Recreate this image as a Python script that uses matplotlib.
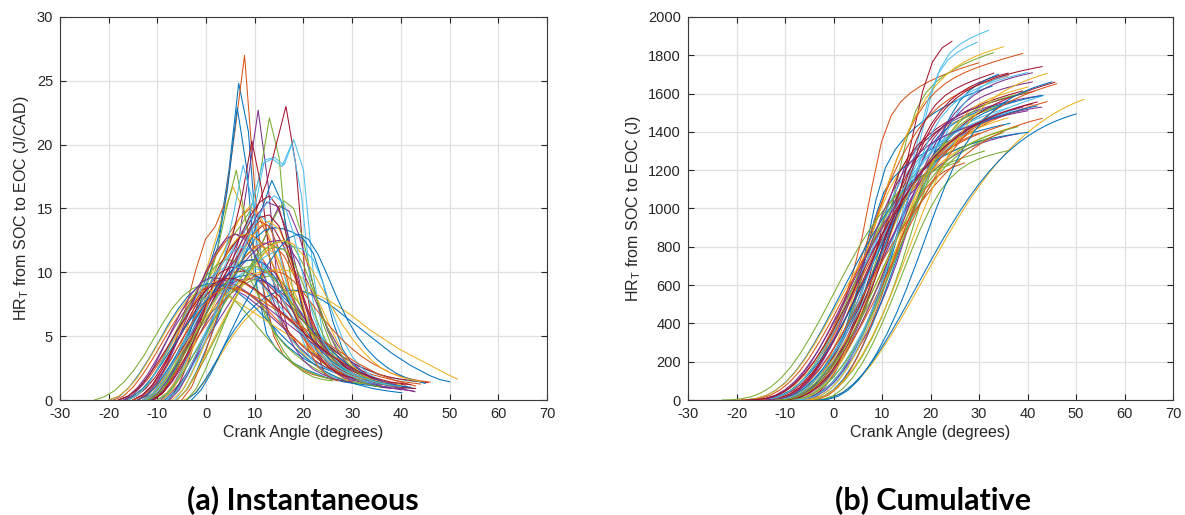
import numpy as np
import matplotlib
matplotlib.use("Agg")
import matplotlib.pyplot as plt

plt.rcParams['font.family'] = ['Liberation Sans', 'DejaVu Sans']
plt.rcParams['mathtext.fontset'] = 'custom'
plt.rcParams['mathtext.rm'] = 'Liberation Sans'
plt.rcParams['mathtext.it'] = 'Liberation Sans:italic'
plt.rcParams['axes.unicode_minus'] = False

# heat release traces, one per cycle, sampled every 2 CAD from SOC to EOC
step = 2.0
soc = [-11.3, -14.1, -12.5, -9.3, -9.0, -8.0, -7.6,
       -11.6, -15.0, -17.0, -9.0, -11.8, -6.4, -10.6,
       -8.5, -18.0, -4.4, -15.1, -6.0, -12.4, -14.0,
       -4.0, -16.0, -10.0, -18.0, -22.9, -14.7, -16.4,
       -19.8, -8.0, -20.0, -12.0, -13.0, -9.0, -15.0,
       -6.0, -19.0, -7.0, -11.0, -16.0, -10.0, -13.0,
       -17.0, -5.0, -14.0, -7.5, -4.0, -16.0, -11.0,
       -14.0, -12.0, -9.0, -17.0, -10.0, -13.0, -11.0,
       -3.0, -15.0, -6.0, -14.0, -12.0, -8.0, -18.0]

hr = [
    [0, 0.6, 1.8, 3.5, 5.6, 8.0, 10.5, 13, 18, 24.8, 21, 11, 6.5, 5, 4.2, 3.6, 3.1, 2.7, 2.4, 2.1, 1.9, 1.7, 1.5],
    [0, 0.3, 1.2, 2.8, 4.8, 7.3, 10.2, 12.6, 13.6, 15.5, 21, 27, 17, 8.5, 5, 3.5, 2.8, 2.3, 2.0, 1.8, 1.6, 1.5, 1.4],
    [0, 0.5, 1.5, 3, 5, 7.2, 9.5, 12, 14.5, 16.7, 15, 12, 9.5, 7.5, 6, 4.8, 3.8, 3, 2.4, 2, 1.7, 1.5, 1.3, 1.2],
    [0, 0.8, 2.2, 4, 5.8, 7.3, 8.6, 10, 12.5, 17.5, 22.7, 17, 9, 5.5, 4.3, 3.6, 3, 2.5, 2.1, 1.8, 1.5, 1.3, 1.1, 1.0, 0.9, 0.8, 0.7],
    [0, 0.8, 2.4, 4.6, 7, 9.3, 11.2, 12.6, 13.6, 14.8, 17.5, 22.1, 19, 10.5, 6, 4.2, 3.2, 2.6, 2.2, 1.9, 1.7, 1.5],
    [0, 0.7, 1.8, 3.2, 4.7, 6.2, 7.8, 9.5, 11.8, 15, 18.8, 19, 18.4, 20.4, 18, 10, 5, 3.2, 2.4, 2, 1.7],
    [0, 1.2, 3, 5.5, 8, 10, 11.5, 12.5, 13.5, 15, 17, 20, 23, 18.5, 9.5, 4.2, 2],
    [0, 0.5, 1.5, 3, 5, 7.2, 9.5, 12, 16.5, 22.9, 18, 9, 5.2, 4, 3.3, 2.8, 2.4, 2.1, 1.8, 1.6, 1.4, 1.3, 1.2, 1.1, 1.0],
    [0, 0.4, 1.2, 2.4, 4, 5.8, 7.6, 9.2, 10.6, 12, 13.2, 14.3, 15, 14.2, 12.5, 10.3, 8, 6, 4.5, 3.4, 2.6, 2.1, 1.8, 1.6, 1.5, 1.4, 1.3, 1.25],
    [0, 0.3, 0.9, 1.8, 3, 4.4, 5.8, 7.2, 8.5, 9.8, 11.2, 12.8, 14.3, 15.2, 14.5, 12.8, 10.8, 8.8, 7, 5.5, 4.3, 3.3, 2.6, 2.1, 1.7, 1.5, 1.3],
    [0, 0.6, 1.5, 2.7, 4, 5.3, 6.5, 7.7, 8.9, 10.3, 11.8, 13.6, 15.2, 14.8, 13, 10.4, 7.6, 5.4, 3.8, 2.8, 2.2, 1.7, 1.4, 1.15, 1, 0.85],
    [0, 0.6, 1.7, 3.2, 5, 7, 9, 11.5, 15, 18, 14, 9, 6.5, 5.2, 4.3, 3.6, 3, 2.5, 2.1, 1.8, 1.6, 1.4, 1.3],
    [0, 1, 2.6, 4.5, 6.5, 8.5, 10.5, 12.8, 15.5, 18.5, 18.9, 18.3, 20.1, 16, 8.5, 4.5, 3, 2.3, 1.9],
    [0, 0.7, 2, 3.6, 5.4, 7.2, 9, 10.8, 12.8, 16, 20.3, 16.5, 10, 6.5, 5, 4, 3.3, 2.8, 2.4, 2.1, 1.8, 1.6, 1.4, 1.3, 1.2, 1.1, 1.0],
    [0, 0.6, 1.7, 3.2, 4.8, 6.4, 8, 9.5, 11, 12.8, 15, 17.2, 15.5, 11.5, 7.5, 5, 3.6, 2.8, 2.2, 1.8, 1.5, 1.3, 1.1, 1.0],
    [0, 0.3, 0.8, 1.6, 2.7, 4, 5.5, 7, 8.5, 10, 11.3, 12.4, 13, 12.8, 12, 10.8, 9.2, 7.6, 6.1, 4.8, 3.8, 3, 2.4, 2, 1.7, 1.5, 1.4, 1.3],
    [0, 0.5, 1.4, 2.6, 3.9, 5.1, 6.1, 6.9, 7.5, 8, 8.3, 8.5, 8.5, 8.4, 8.1, 7.7, 7.2, 6.7, 6.1, 5.5, 5.0, 4.5, 4.0, 3.6, 3.2, 2.8, 2.4, 2.0, 1.64],
    [0, 0.4, 1.1, 2.1, 3.3, 4.6, 5.9, 7, 7.9, 8.6, 9.1, 9.4, 9.5, 9.4, 9.1, 8.6, 7.9, 7, 6.1, 5.2, 4.3, 3.5, 2.8, 2.2, 1.8, 1.5, 1.2, 1, 0.8, 0.65],
    [0, 0.8, 2, 3.4, 4.9, 6.4, 7.9, 9.4, 11, 12.7, 14.3, 15.6, 15, 12.5, 9, 6, 4, 2.8, 2.1, 1.7, 1.4],
    [0, 0.5, 1.4, 2.7, 4.2, 5.8, 7.4, 9, 11, 14.5, 18.4, 15.5, 10.5, 7.5, 5.8, 4.7, 3.9, 3.2, 2.7, 2.3, 2, 1.7, 1.5, 1.3],
    [0, 0.4, 1.1, 2.1, 3.3, 4.6, 6, 7.4, 8.7, 9.9, 11, 12.1, 13.1, 13.8, 13.4, 12, 10, 7.8, 5.8, 4.3, 3.2, 2.5, 2, 1.6, 1.35, 1.2],
    [0, 0.6, 1.7, 3, 4.4, 5.6, 6.6, 7.4, 8, 8.4, 8.6, 8.6, 8.5, 8.2, 7.8, 7.3, 6.7, 6.1, 5.5, 4.9, 4.3, 3.7, 3.2, 2.7, 2.3, 1.9, 1.6, 1.43],
    [0, 0.4, 1.2, 2.4, 3.8, 5.3, 6.7, 7.9, 8.8, 9.3, 9.5, 9.4, 9.1, 8.6, 8, 7.3, 6.6, 5.9, 5.2, 4.6, 4, 3.5, 3, 2.6, 2.3, 2, 1.8, 1.6, 1.45, 1.35, 1.25],
    [0, 0.6, 1.6, 3, 4.6, 6.2, 7.8, 9.2, 10.4, 11.3, 11.9, 12, 11.5, 10.3, 8.6, 6.8, 5.2, 4, 3.1, 2.5, 2, 1.7, 1.5, 1.3],
    [0, 0.3, 1, 2, 3.3, 4.7, 6, 7.2, 8.2, 8.8, 9, 8.9, 8.6, 8.2, 7.6, 7, 6.3, 5.6, 4.9, 4.2, 3.6, 3, 2.5, 2.1, 1.7, 1.4, 1.2, 1, 0.9],
    [0, 0.25, 0.7, 1.4, 2.3, 3.4, 4.7, 6, 7.2, 8.1, 8.7, 9, 9, 8.7, 8.1, 7.3, 6.4, 5.5, 4.6, 3.8, 3.1, 2.6, 2.2, 1.9, 1.7, 1.55, 1.45, 1.35],
    [0, 0.4, 1.1, 2, 3.1, 4.3, 5.5, 6.6, 7.6, 8.5, 9.3, 9.9, 10.3, 10.2, 9.7, 8.9, 8, 7, 6, 5.1, 4.3, 3.6, 3.1, 2.7, 2.3, 2.0, 1.8, 1.65, 1.52, 1.43],
    [0, 0.3, 0.9, 1.8, 3, 4.3, 5.6, 6.9, 8, 8.9, 9.6, 10, 10.1, 9.9, 9.4, 8.7, 7.9, 7.1, 6.3, 5.5, 4.8, 4.1, 3.5, 3, 2.6, 2.3, 2, 1.8, 1.65, 1.55, 1.45, 1.36],
    [0, 0.3, 1, 2, 3.2, 4.5, 5.9, 7.1, 8.1, 8.8, 9.1, 9.1, 8.9, 8.5, 7.9, 7.2, 6.4, 5.6, 4.8, 4.1, 3.4, 2.8, 2.3, 1.9, 1.55, 1.3, 1.1, 0.9, 0.77, 0.66, 0.57],
    [0, 0.7, 2, 3.6, 5.3, 7, 8.6, 10, 11.2, 12, 12.3, 12.1, 11.3, 9.8, 7.8, 5.8, 4, 2.8, 2, 1.4],
    [0, 0.3, 0.9, 1.8, 3, 4.3, 5.6, 6.8, 7.8, 8.4, 8.6, 8.5, 8.2, 7.8, 7.3, 6.8, 6.3, 5.8, 5.3, 4.8, 4.3, 3.8, 3.3, 2.9, 2.5, 2.1, 1.8, 1.55, 1.35, 1.2],
    [0, 0.5, 1.5, 2.8, 4.3, 5.8, 7.2, 8.5, 9.6, 10.4, 10.9, 11, 10.7, 10, 9, 7.8, 6.5, 5.3, 4.3, 3.4, 2.7, 2.1, 1.7, 1.35, 1.1, 0.95, 0.8],
    [0, 0.4, 1.2, 2.3, 3.5, 4.7, 5.8, 6.8, 7.6, 8.3, 8.9, 9.3, 9.6, 9.7, 9.4, 8.7, 7.6, 6.3, 5, 3.9, 3.1, 2.5, 2.1, 1.8, 1.6],
    [0, 0.8, 2.2, 4, 6, 8, 9.8, 11.5, 13, 14.1, 14.5, 13.8, 11.5, 8.3, 5.5, 3.6, 2.6, 2, 1.7],
    [0, 0.4, 1.2, 2.4, 3.8, 5.3, 6.8, 8.1, 9.2, 10, 10.4, 10.3, 9.9, 9.3, 8.5, 7.7, 6.8, 5.9, 5.1, 4.3, 3.6, 3, 2.5, 2.1, 1.8, 1.55, 1.4, 1.27, 1.17],
    [0, 0.8, 2.2, 4, 6, 8, 9.8, 11.4, 12.6, 13.3, 13.5, 13.4, 13.1, 12.6, 11.5, 9.2, 6.2, 4, 2.8, 2.2, 1.8],
    [0, 0.3, 1, 2, 3.2, 4.5, 5.8, 7, 7.9, 8.6, 9, 9.1, 9, 8.7, 8.2, 7.6, 6.9, 6.1, 5.3, 4.5, 3.8, 3.2, 2.7, 2.3, 2, 1.8, 1.6, 1.5],
    [0, 0.7, 2, 3.7, 5.6, 7.6, 9.5, 11.2, 12.6, 13.6, 14, 13.4, 11.5, 8.7, 6, 4, 2.7, 2, 1.5],
    [0, 0.5, 1.4, 2.6, 4, 5.4, 6.8, 8.1, 9.3, 10.4, 11.3, 12, 12.4, 12.5, 12, 10.8, 9.1, 7.3, 5.6, 4.3, 3.3, 2.6, 2, 1.6, 1.3, 1.1, 1.0],
    [0, 0.4, 1.2, 2.4, 3.9, 5.5, 7.1, 8.5, 9.7, 10.5, 11, 10.9, 10.2, 8.8, 7, 5.2, 3.8, 2.8, 2.2, 1.8, 1.6, 1.5],
    [0, 0.5, 1.4, 2.6, 4, 5.4, 6.8, 8, 9.1, 10, 10.7, 11.2, 11.6, 11.9, 12, 11.8, 11, 9.2, 6.8, 4.8, 3.4, 2.5, 1.9, 1.55],
    [0, 0.5, 1.4, 2.7, 4.2, 5.9, 7.6, 9.2, 10.7, 11.9, 12.8, 13, 12.5, 11.2, 9.4, 7.6, 6, 4.7, 3.7, 3, 2.5, 2.1, 1.8, 1.6, 1.45, 1.35, 1.3],
    [0, 0.3, 0.9, 1.8, 2.9, 4.1, 5.3, 6.4, 7.4, 8.2, 8.9, 9.4, 9.7, 9.8, 9.6, 9.1, 8.4, 7.6, 6.7, 5.8, 4.9, 4.1, 3.4, 2.8, 2.3, 1.9, 1.6, 1.35, 1.15, 1, 0.9],
    [0, 1, 2.8, 5, 7.4, 9.7, 11.7, 13.2, 14, 13.6, 11.8, 9, 6.2, 4, 2.6, 1.9, 1.5],
    [0, 0.4, 1.1, 2.1, 3.2, 4.4, 5.5, 6.5, 7.4, 8.2, 8.9, 9.5, 9.9, 10.1, 10.2, 10.2, 10, 9.5, 8.5, 7, 5.3, 3.8, 2.7, 2, 1.6, 1.4, 1.3, 1.2],
    [0, 0.8, 2.2, 3.9, 5.7, 7.5, 9.3, 11.1, 12.9, 14.5, 15.5, 15.2, 13.4, 10.4, 7.2, 4.7, 3.1, 2.2, 1.7, 1.5],
    [0, 0.9, 2.5, 4.4, 6.3, 8, 9.5, 10.7, 11.6, 12, 11.8, 10.8, 9, 7, 5.1, 3.6, 2.5, 1.8, 1.4, 1.15, 1.0],
    [0, 0.4, 1.2, 2.4, 3.8, 5.3, 6.8, 8.1, 9.2, 10, 10.4, 10.5, 10.2, 9.6, 8.8, 7.9, 6.9, 5.9, 5, 4.2, 3.5, 2.9, 2.4, 2, 1.7, 1.45, 1.3],
    [0, 0.6, 1.7, 3.2, 4.8, 6.4, 8, 9.6, 11.2, 12.8, 14.4, 15.5, 16, 15, 12.2, 8.5, 5.5, 3.6, 2.6, 2.1, 1.8, 1.7, 1.6],
    [0, 0.4, 1.2, 2.3, 3.6, 5, 6.4, 7.7, 8.8, 9.7, 10.4, 10.9, 11, 10.6, 9.7, 8.4, 7, 5.7, 4.6, 3.7, 3, 2.5, 2.1, 1.8, 1.55, 1.35, 1.2, 1.1, 1.0],
    [0, 0.4, 1.2, 2.3, 3.5, 4.7, 5.9, 7, 7.9, 8.7, 9.3, 9.7, 10, 10.1, 9.9, 9.3, 8.4, 7.4, 6.4, 5.5, 4.7, 4, 3.4, 2.9, 2.5, 2.1, 1.85, 1.65, 1.5, 1.4],
    [0, 0.7, 2, 3.8, 6, 8.3, 10.4, 12, 12.9, 13, 12.4, 11.2, 9.6, 7.9, 6.3, 5, 3.9, 3, 2.4, 2, 1.75, 1.6],
    [0, 0.4, 1.2, 2.4, 3.9, 5.5, 7, 8.3, 9.2, 9.6, 9.5, 9.2, 8.8, 8.3, 7.7, 7.1, 6.5, 5.9, 5.3, 4.7, 4.1, 3.6, 3.1, 2.6, 2.2, 1.9, 1.6, 1.4, 1.2],
    [0, 0.5, 1.4, 2.6, 3.9, 5.2, 6.5, 7.7, 8.9, 10, 11, 11.8, 12.3, 12.5, 12, 10.6, 8.6, 6.5, 4.7, 3.4, 2.5, 1.9, 1.5, 1.25, 1.1, 1.0],
    [0, 0.5, 1.4, 2.7, 4.2, 5.9, 7.6, 9.2, 10.5, 11.5, 12, 11.8, 11, 9.8, 8.4, 7, 5.7, 4.6, 3.7, 3, 2.4, 2, 1.7, 1.45, 1.3, 1.2],
    [0, 0.5, 1.5, 2.8, 4.3, 5.9, 7.5, 9.1, 10.7, 12.2, 13.5, 14.3, 14.5, 13.6, 11.6, 9.2, 7, 5.2, 3.9, 3, 2.4, 1.9, 1.6, 1.35, 1.2, 1.05, 0.95, 0.9],
    [0, 0.8, 2.1, 3.7, 5.3, 6.9, 8.3, 9.6, 10.8, 11.9, 12.7, 13, 12.6, 11.4, 9.7, 7.9, 6.3, 5, 4, 3.2, 2.6, 2.1, 1.75, 1.5, 1.3],
    [0, 0.3, 1, 2, 3.3, 4.7, 6, 7.2, 8.1, 8.7, 8.8, 8.6, 8.3, 7.9, 7.4, 6.9, 6.4, 5.9, 5.4, 4.9, 4.4, 3.9, 3.4, 2.9, 2.5, 2.1, 1.8, 1.5, 1.3, 1.1],
    [0, 0.8, 2.1, 3.6, 5.1, 6.6, 8, 9.3, 10.5, 11.5, 12.2, 12.5, 12.2, 11.3, 10, 8.6, 7.2, 5.9, 4.8, 3.9, 3.1, 2.5, 2.1, 1.8, 1.6, 1.45],
    [0, 0.5, 1.4, 2.8, 4.5, 6.4, 8.3, 10.1, 11.6, 12.6, 13, 12.6, 11.4, 9.6, 7.6, 5.7, 4.2, 3.1, 2.4, 2, 1.7, 1.5, 1.4],
    [0, 0.4, 1.3, 2.5, 3.9, 5.3, 6.7, 8, 9.1, 9.9, 10.4, 10.5, 10.2, 9.5, 8.5, 7.4, 6.2, 5.1, 4.1, 3.3, 2.6, 2.1, 1.75, 1.5, 1.3, 1.15],
    [0, 0.7, 2, 3.6, 5.3, 7, 8.7, 10.4, 12.1, 13.8, 15.2, 16, 15.4, 13, 9.6, 6.6, 4.6, 3.4, 2.6, 2.1, 1.75, 1.5, 1.3, 1.15, 1.05],
    [0, 0.3, 0.9, 1.8, 2.9, 4.1, 5.4, 6.6, 7.7, 8.6, 9.2, 9.5, 9.5, 9.2, 8.7, 8.1, 7.4, 6.7, 6, 5.3, 4.6, 4, 3.4, 2.9, 2.5, 2.1, 1.8, 1.6, 1.4, 1.3, 1.2],
]

# integrated HR_T scaled to joules for the cumulative panel
cum_scale = 5.4

xticks = np.arange(-30, 71, 10)
yticks_a = np.arange(0, 31, 5)
yticks_b = np.arange(0, 2001, 200)

# MATLAB default line colour order
colors = ['#0072BD', '#D95319', '#EDB120', '#7E2F8E',
          '#77AC30', '#4DBEEE', '#A2142F']

fig = plt.figure(figsize=(11.85, 5.15), dpi=100)
ax1 = fig.add_axes([0.0506, 0.2233, 0.411, 0.7437])
ax2 = fig.add_axes([0.5806, 0.2233, 0.4093, 0.7437])

for i, (s, v) in enumerate(zip(soc, hr)):
    v = np.array(v, dtype=float)
    ca = s + step * np.arange(len(v))
    cum = np.concatenate([[0.0], np.cumsum(0.5 * (v[1:] + v[:-1]) * step)]) * cum_scale
    c = colors[i % len(colors)]
    ax1.plot(ca, v, color=c, lw=0.75)
    ax2.plot(ca, cum, color=c, lw=0.75)

for ax, yt, ylab in [(ax1, yticks_a, 'HR$_\\mathrm{T}$ from SOC to EOC (J/CAD)'),
                     (ax2, yticks_b, 'HR$_\\mathrm{T}$ from SOC to EOC (J)')]:
    ax.set_xlim(-30, 70)
    ax.set_ylim(yt[0], yt[-1])
    ax.set_xticks(xticks)
    ax.set_yticks(yt)
    ax.grid(True, color='#e0e0e0', lw=0.9)
    ax.set_axisbelow(True)
    ax.tick_params(direction='in', top=True, right=True, length=4,
                   width=0.8, labelsize=10.5, colors='#262626', pad=5)
    for sp in ax.spines.values():
        sp.set_color('#3a3a3a')
        sp.set_linewidth(0.8)
    ax.set_xlabel('Crank Angle (degrees)', fontsize=11.5, color='#262626', labelpad=3)
    ax.set_ylabel(ylab, fontsize=11.5, color='#262626', labelpad=4)

fig.text(0.256, 0.03, '(a) Instantaneous', fontsize=22, fontweight='bold',
         family=['Lato', 'DejaVu Sans'], ha='center', va='center')
fig.text(0.787, 0.03, '(b) Cumulative', fontsize=22, fontweight='bold',
         family=['Lato', 'DejaVu Sans'], ha='center', va='center')

fig.savefig('out.png', dpi=100)
